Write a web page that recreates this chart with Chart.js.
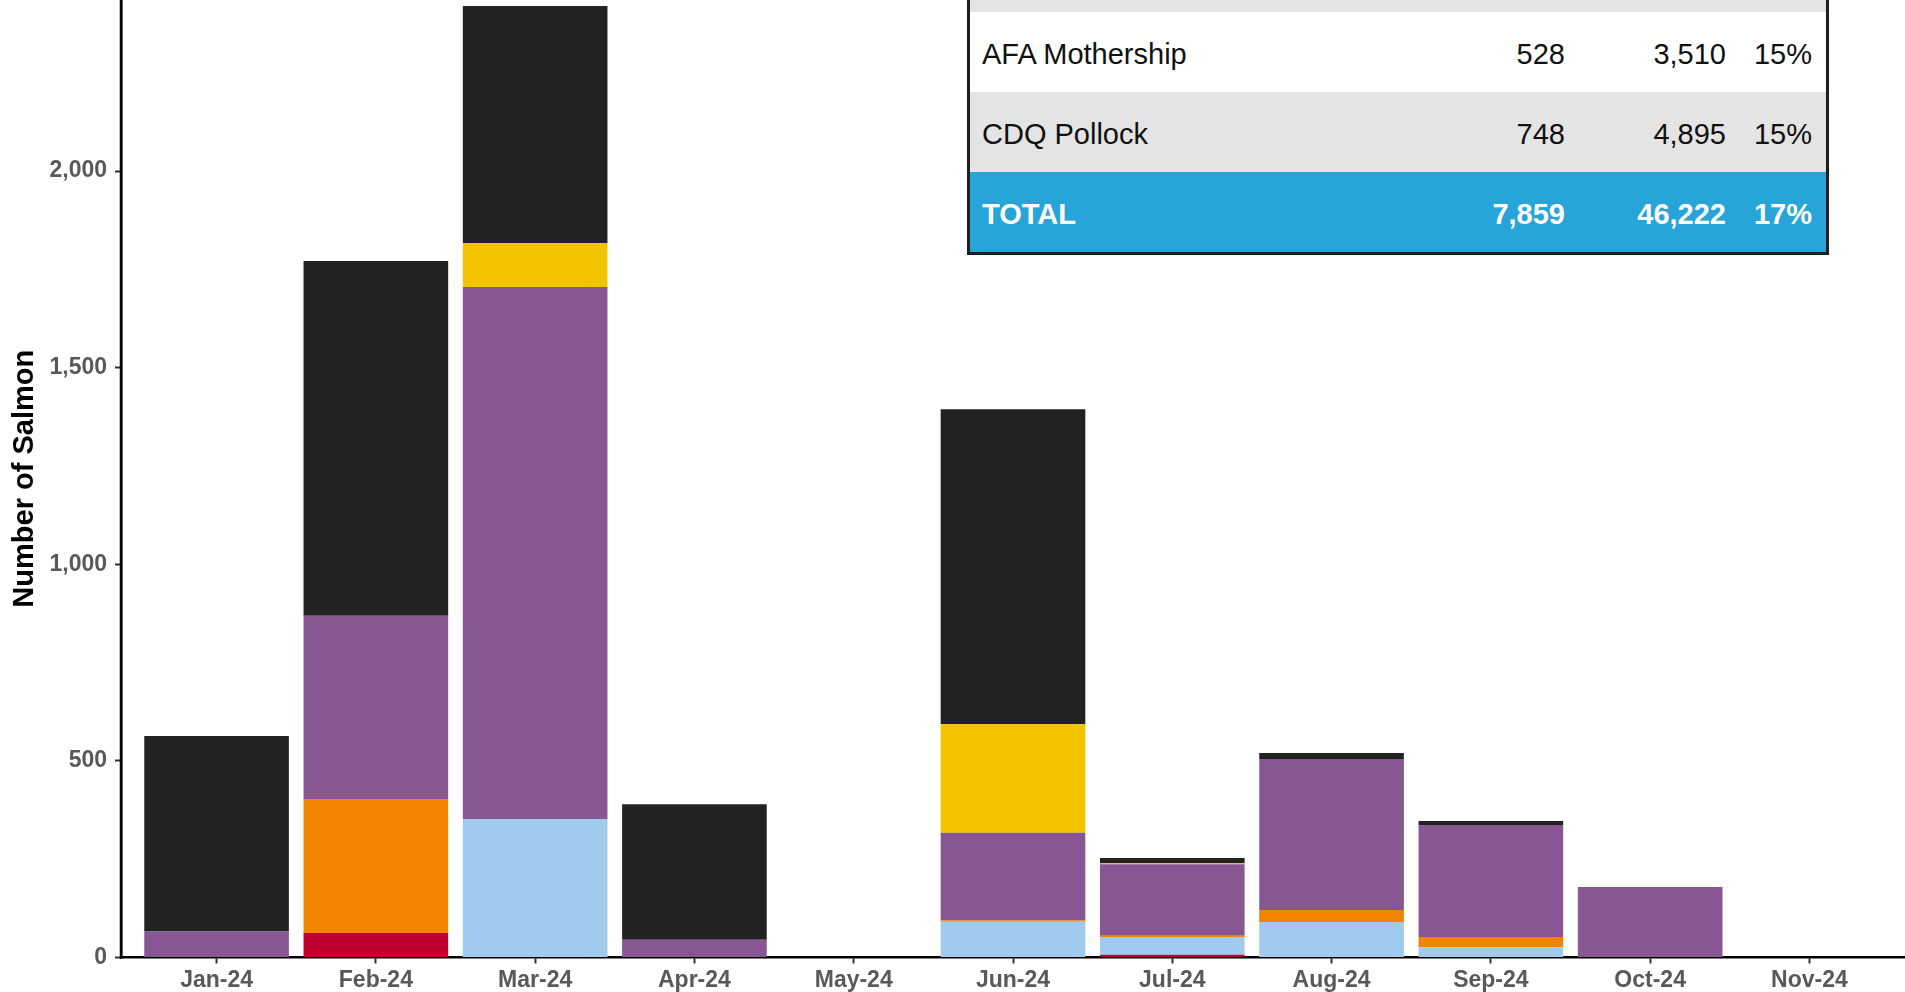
<!DOCTYPE html>
<html>
<head>
<meta charset="utf-8">
<script src="https://cdn.jsdelivr.net/npm/chart.js@4/dist/chart.umd.min.js"></script>
<style>
  html, body { margin: 0; padding: 0; background: #fff; overflow: hidden; }
  #wrap { position: relative; width: 1905px; height: 992px; }
  #summary {
    position: absolute; left: 967px; top: -71px; width: 856px;
    border: 3px solid #1e1e1e; background: #fff;
    font-family: "Liberation Sans", Arial, sans-serif; font-size: 29px; color: #111;
  }
  .row { display: grid; grid-template-columns: 510px 85px 161px 86px 14px; height: 80px; line-height: 80px; }
  .row div { text-align: right; white-space: nowrap; position: relative; top: 2px; }
  .row div.name { text-align: left; padding-left: 12px; }
  .grey { background: #e4e4e4; }
  .total { background: #27a4d8; color: #fff; font-weight: bold; }
</style>
</head>
<body>
<div id="wrap">
  <canvas id="bycatchChart"></canvas>
  <div id="summary"></div>
</div>
<script>
const months = ["Jan-24", "Feb-24", "Mar-24", "Apr-24", "May-24", "Jun-24", "Jul-24", "Aug-24", "Sep-24", "Oct-24", "Nov-24"];

// stacked bottom to top
const redVals    = [0, 62, 0, 0, 0, 0, 7, 0, 0, 0, 0];
const blueVals   = [0, 0, 352, 0, 0, 91, 45, 90, 26, 0, 0];
const orangeVals = [0, 341, 0, 0, 0, 3, 3, 31, 26, 0, 0];
const purpleVals = [66, 466, 1353, 45, 0, 223, 182, 384, 285, 179, 0];
const yellowVals = [0, 0, 112, 0, 0, 276, 3, 0, 0, 0, 0];
const blackVals  = [497, 902, 603, 345, 0, 801, 13, 15, 10, 0, 0];

const yTicks = [0, 500, 1000, 1500, 2000];

const tableRows = [
    ["", "", "", "", "grey"],
    ["AFA Mothership", "528", "3,510", "15%", ""],
    ["CDQ Pollock", "748", "4,895", "15%", "grey"],
    ["TOTAL", "7,859", "46,222", "17%", "total"]
];

const font = "'Liberation Sans', Arial, sans-serif";

document.addEventListener("DOMContentLoaded", () => {
    buildTable();
    drawChart();
});

function buildTable() {
    let box = document.getElementById("summary");
    tableRows.forEach(r => {
        let row = document.createElement("div");
        row.className = "row " + r[4];
        row.innerHTML = `<div class="name">${r[0]}</div><div>${r[1]}</div><div>${r[2]}</div><div>${r[3]}</div><div></div>`;
        box.appendChild(row);
    });
}

// the left axis line did not show up, so stroke it along the chart area edge
const yAxisLine = {
    id: "yAxisLine",
    afterDraw(chart) {
        let area = chart.chartArea;
        let c = chart.ctx;
        c.save();
        c.strokeStyle = "#000";
        c.lineWidth = 2.5;
        c.beginPath();
        c.moveTo(area.left, area.top);
        c.lineTo(area.left, area.bottom + 1.25);
        c.stroke();
        c.restore();
    }
};

function drawChart() {
    let wrap = document.getElementById("wrap");
    let canvas = document.getElementById("bycatchChart");
    canvas.width = wrap.clientWidth;
    canvas.height = wrap.clientHeight;
    let ctx = canvas.getContext("2d");

    let series = [
        ["Sector 1", redVals, "#c0002f"],
        ["Sector 2", blueVals, "#a0caee"],
        ["Sector 3", orangeVals, "#f28500"],
        ["Sector 4", purpleVals, "#885692"],
        ["Sector 5", yellowVals, "#f4c300"],
        ["Sector 6", blackVals, "#222222"]
    ];

    new Chart(ctx, {
        type: "bar",
        data: {
            labels: months.map((m, i) => i),
            datasets: series.map(s => ({
                label: s[0],
                data: s[1],
                backgroundColor: s[2],
                borderWidth: 0,
                categoryPercentage: 1,
                barPercentage: 0.908
            }))
        },
        plugins: [yAxisLine],
        options: {
            responsive: false,
            animation: false,
            layout: { padding: 0 },
            plugins: {
                legend: { display: false },
                tooltip: { enabled: false }
            },
            scales: {
                x: {
                    type: "linear",
                    stacked: true,
                    offset: false,
                    min: -0.6,
                    max: 10.6,
                    afterBuildTicks: s => { s.ticks = months.map((m, i) => ({ value: i })); },
                    afterFit: s => { s.height = 34.5; s.paddingLeft = 0; s.paddingRight = 0; },
                    border: { display: true, color: "#000", width: 2.5 },
                    grid: { display: true, offset: false, drawOnChartArea: false, tickLength: 6, tickColor: "#333", tickWidth: 2 },
                    ticks: {
                        autoSkip: false,
                        maxRotation: 0,
                        padding: 3,
                        color: "#595959",
                        font: { family: font, size: 23, weight: "bold" },
                        callback: v => months[v]
                    }
                },
                y: {
                    stacked: true,
                    min: 0,
                    max: 2435,
                    afterBuildTicks: s => { s.ticks = yTicks.map(v => ({ value: v })); },
                    afterFit: s => { s.width = 121; s.paddingTop = 0; s.paddingBottom = 0; },
                    border: { display: true, color: "#000", width: 2.5 },
                    grid: { display: true, drawOnChartArea: false, tickLength: 6, tickColor: "#333", tickWidth: 2 },
                    ticks: {
                        padding: 8,
                        color: "#595959",
                        font: { family: font, size: 23, weight: "bold" },
                        callback: v => v.toLocaleString("en-US")
                    },
                    title: {
                        display: true,
                        text: "Number of Salmon",
                        color: "#000",
                        padding: { top: 7.5, bottom: 0 },
                        font: { family: font, size: 29, weight: "bold" }
                    }
                }
            }
        }
    });
}
</script>
</body>
</html>
